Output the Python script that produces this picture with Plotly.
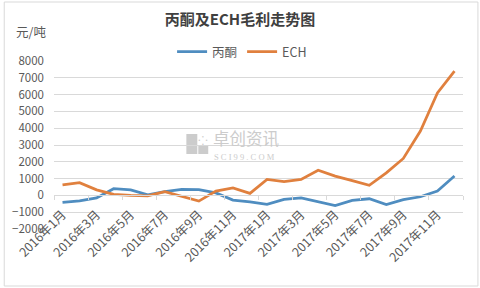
import plotly.graph_objects as go

months = [f"2016年{m}月" for m in range(1, 13)] + [f"2017年{m}月" for m in range(1, 13)]
acetone = [-420, -330, -150, 400, 330, 30, 220, 360, 340, 150, -280, -380,
           -530, -240, -150, -380, -600, -300, -200, -540, -250, -80, 260, 1150]
ech = [620, 760, 330, 60, 0, -30, 220, -40, -340, 260, 450, 120,
       950, 820, 950, 1500, 1150, 880, 600, 1340, 2200, 3830, 6100, 7400]

title_text = "丙酮及ECH毛利走势图"
unit_text = "元/吨"
y_ticks = list(range(-2000, 8001, 1000))

# plot area geometry (px)
W, H = 480, 288
L, R, T, B = 52, 17, 61, 59
pw, ph = W - L - R, H - T - B


def px_x(x):
    return (x - L) / pw


def px_y(y):
    return (H - B - y) / ph


fig = go.Figure()
fig.add_trace(go.Scatter(x=months, y=acetone, name="丙酮", mode="lines",
                         line=dict(color="#4F8DC0", width=2.75)))
fig.add_trace(go.Scatter(x=months, y=ech, name="ECH", mode="lines",
                         line=dict(color="#E0803E", width=2.75)))

font_cjk = "Noto Sans CJK SC, Noto Sans, sans-serif"

fig.update_layout(
    width=W, height=H,
    margin=dict(l=L, r=R, t=T, b=B),
    paper_bgcolor="white", plot_bgcolor="white",
    font=dict(family=font_cjk, color="#595959", size=12),
    title=dict(text=f"<b>{title_text}</b>", x=0.5, xanchor="center",
               y=1 - 20 / H, yanchor="middle",
               font=dict(size=15, color="#404040", family=font_cjk)),
    legend=dict(orientation="h", x=px_x(241), xanchor="center",
                y=px_y(52), yanchor="middle",
                font=dict(size=12.5, color="#595959"),
                bgcolor="rgba(0,0,0,0)", itemwidth=30),
    showlegend=True,
)

fig.update_xaxes(
    type="category", range=[-0.5, 23.5],
    tickmode="linear", tick0=0, dtick=2,
    tickangle=-45, tickfont=dict(size=12.5, color="#595959"),
    anchor="free", position=0.2, ticklabelstandoff=6,
    showline=True, linecolor="#d9d9d9", linewidth=1,
    ticks="outside", ticklen=4, tickcolor="#d9d9d9", tickson="boundaries",
    showgrid=False, zeroline=False,
)
fig.update_yaxes(
    range=[-2000, 8000], tickmode="array", tickvals=y_ticks,
    tickfont=dict(size=11.5, color="#595959"),
    showgrid=True, gridcolor="#d9d9d9", gridwidth=1,
    zeroline=False, showline=False, ticklabelstandoff=9,
)

# unit label
fig.add_annotation(text=unit_text, xref="paper", yref="paper",
                   x=px_x(12), y=px_y(32), xanchor="left", yanchor="middle",
                   showarrow=False, font=dict(size=12.5, color="#595959"))

# watermark
wm = "#cccccc"
for (x0, y0, x1, y1) in [(185, 134, 196, 145), (185, 146, 196, 154), (197, 146, 207, 154)]:
    fig.add_shape(type="rect", xref="paper", yref="paper",
                  x0=px_x(x0), x1=px_x(x1), y0=px_y(y0), y1=px_y(y1),
                  fillcolor=wm, line=dict(width=0), layer="below")
fig.add_annotation(text="⁘", xref="paper", yref="paper", x=px_x(202), y=px_y(139),
                   showarrow=False, font=dict(size=12, color=wm))
fig.add_annotation(text="卓创资讯", xref="paper", yref="paper",
                   x=px_x(210), y=px_y(138), xanchor="left", yanchor="middle",
                   showarrow=False, font=dict(size=16.5, color=wm, family=font_cjk))
fig.add_annotation(text="S C I 9 9 . C O M", xref="paper", yref="paper",
                   x=px_x(211), y=px_y(157), xanchor="left", yanchor="middle",
                   showarrow=False, font=dict(size=8.5, color=wm, family="Liberation Serif"))

# outer border
fig.add_shape(type="rect", xref="paper", yref="paper",
              x0=px_x(2), x1=px_x(478), y0=px_y(2), y1=px_y(286),
              line=dict(color="#d9d9d9", width=1), fillcolor="rgba(0,0,0,0)")

fig.write_html("out.html")
